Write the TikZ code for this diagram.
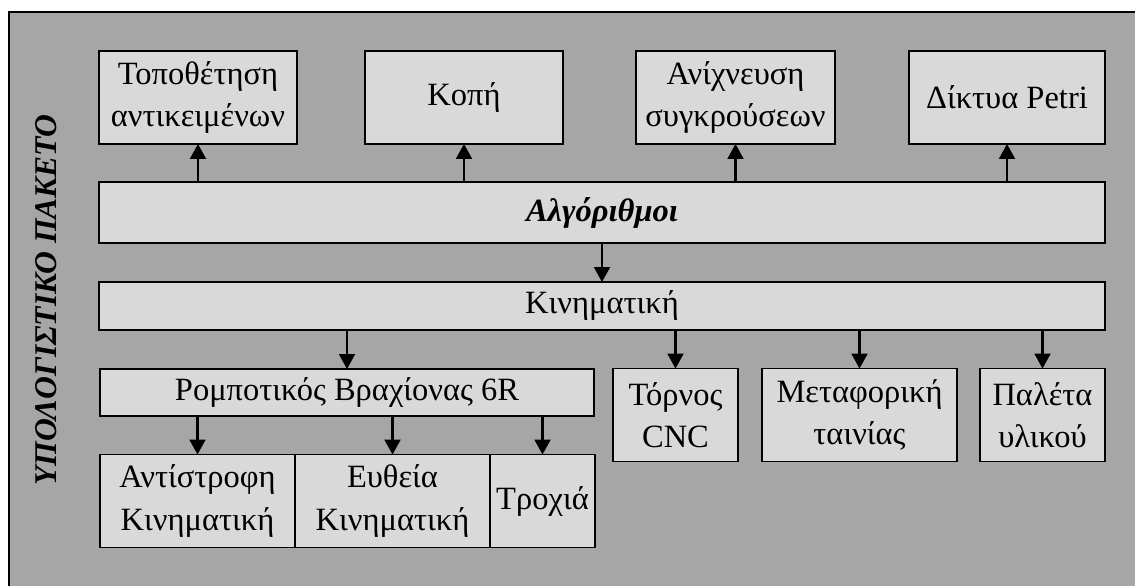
\documentclass[tikz,border=0pt]{standalone}
\usepackage{fontspec}
\setmainfont{Liberation Serif}
\usetikzlibrary{arrows.meta}

\definecolor{panelgray}{HTML}{A6A6A6}
\definecolor{boxgray}{HTML}{D9D9D9}

\begin{document}
\fontsize{18.5}{24}\selectfont
\begin{tikzpicture}[x=0.02cm, y=-0.02cm,
  box/.style={rectangle, draw, line width=0.9pt, fill=boxgray, inner sep=0pt, outer sep=0pt, align=center},
  big/.style={box, minimum height=1.86cm},
  arr/.style={line width=1.2pt, -{Triangle[length=0.3cm, width=0.32cm]}}]
\useasboundingbox (0,0) rectangle (1135,585);
\draw[line width=1.1pt, fill=panelgray] (9,12) rectangle (1160,610);
\node[rotate=90, font=\bfseries\itshape\fontsize{18}{22}\selectfont] (pkg) at (46,300) {ΥΠΟΛΟΓΙΣΤΙΚΟ ΠΑΚΕΤΟ};

% top row
\node[big, minimum width=3.96cm] (place) at (198,97.5) {Τοποθέτηση\\αντικειμένων};
\node[big, minimum width=3.96cm] (cut) at (464,97.5) {Κοπή};
\node[big, minimum width=3.98cm] (coll) at (735.5,97.5) {Ανίχνευση\\συγκρούσεων};
\node[big, minimum width=3.92cm] (petri) at (1007,97.5) {Δίκτυα Petri};

% bars
\node[box, minimum width=20.12cm, minimum height=1.22cm, font=\bfseries\itshape] (algo) at (602,212.5) {Αλγόριθμοι};
\node[box, minimum width=20.12cm, minimum height=0.96cm] (kin) at (602,306) {Κινηματική};

% third row
\node[box, minimum width=9.88cm, minimum height=0.94cm] (arm) at (347,392.5) {Ρομποτικός Βραχίονας 6R};
\node[big, minimum width=2.5cm] (cnc) at (675.5,415) {Τόρνος\\CNC};
\node[big, minimum width=3.9cm] (conv) at (859.5,415) {Μεταφορική\\ταινίας};
\node[big, minimum width=2.5cm] (pallet) at (1042.5,415) {Παλέτα\\υλικού};

% bottom row
\node[big, minimum width=3.9cm] (inv) at (197.5,501) {Αντίστροφη\\Κινηματική};
\node[big, minimum width=3.9cm] (fwd) at (392.5,501) {Ευθεία\\Κινηματική};
\node[big, minimum width=2.1cm] (traj) at (542.5,501) {Τροχιά};

\draw[arr] (algo.north -| place) -- (place);
\draw[arr] (algo.north -| cut) -- (cut);
\draw[arr] (algo.north -| coll) -- (coll);
\draw[arr] (algo.north -| petri) -- (petri);
\draw[arr] (algo) -- (kin);
\draw[arr] (kin.south -| arm) -- (arm);
\draw[arr] (kin.south -| cnc) -- (cnc);
\draw[arr] (kin.south -| conv) -- (conv);
\draw[arr] (kin.south -| pallet) -- (pallet);
\draw[arr] (arm.south -| inv) -- (inv);
\draw[arr] (arm.south -| fwd) -- (fwd);
\draw[arr] (arm.south -| traj) -- (traj);
\end{tikzpicture}
\end{document}
